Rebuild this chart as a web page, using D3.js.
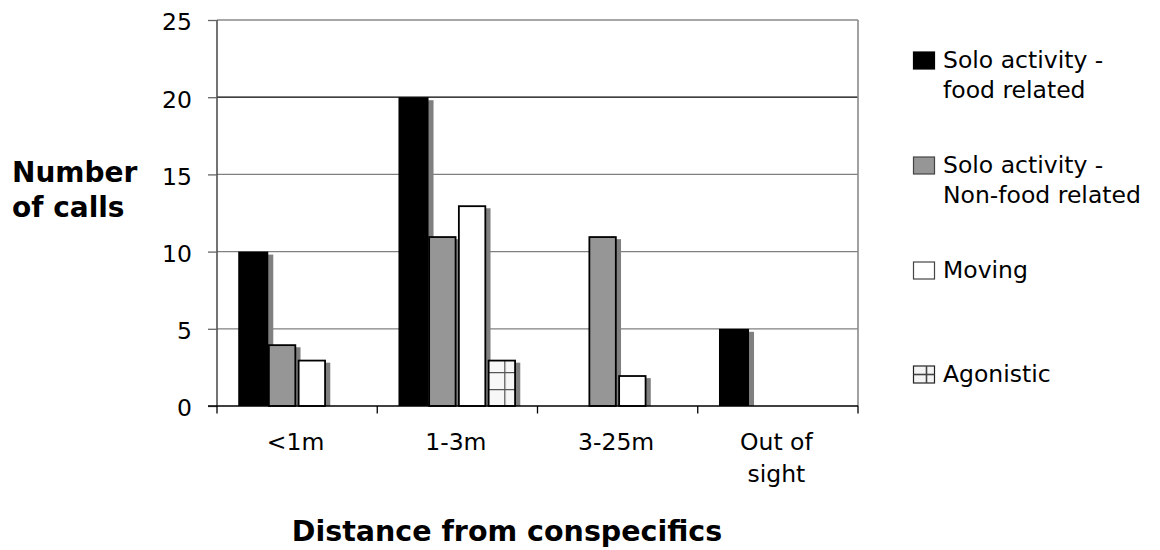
<!DOCTYPE html>
<html>
<head>
<meta charset="utf-8">
<script src="https://cdn.jsdelivr.net/npm/d3@7"></script>
<style>
  html, body { margin: 0; padding: 0; background: #fff; }
  svg { display: block; font-family: Verdana, "DejaVu Sans", sans-serif; }
</style>
</head>
<body>
<svg id="chart" width="1160" height="550"></svg>
<script>
// ---- data ----
const categories = ["<1m", "1-3m", "3-25m", "Out of sight"];
const categoryLines = [["<1m"], ["1-3m"], ["3-25m"], ["Out of", "sight"]];
const seriesKeys = ["soloFood", "soloNonFood", "moving", "agonistic"];
const seriesNames = ["Solo activity - food related", "Solo activity - Non-food related", "Moving", "Agonistic"];
const legendLines = [["Solo activity -", "food related"], ["Solo activity -", "Non-food related"], ["Moving"], ["Agonistic"]];
const soloFood    = [10, 20, 0, 5];
const soloNonFood = [4, 11, 11, 0];
const moving      = [3, 13, 2, 0];
const agonistic   = [0, 3, 0, 0];
const yTicks = [0, 5, 10, 15, 20, 25];

const seriesValues = [soloFood, soloNonFood, moving, agonistic];
const rows = categories.map((c, i) => {
  const r = { category: c };
  seriesKeys.forEach((k, j) => r[k] = seriesValues[j][i]);
  return r;
});

// ---- layout ----
const svg = d3.select("#chart");
const plot = { left: 217, right: 858, top: 20, bottom: 406 };

const x0 = d3.scaleBand().domain(categories).range([plot.left, plot.right]);
const groupW = 119;
const gOff = (x0.bandwidth() - groupW) / 2 + 0.6;
const x1 = d3.scaleBand().domain(seriesKeys).range([0, groupW]);
const y = d3.scaleLinear().domain([0, 25]).range([plot.bottom, plot.top]);

const fills = { soloFood: "#000", soloNonFood: "#969696", moving: "#fff", agonistic: "url(#grid)" };

// pattern for agonistic
const defs = svg.append("defs");
const agIdx = categories.indexOf("1-3m");
const pat = defs.append("pattern").attr("id", "grid")
  .attr("patternUnits", "userSpaceOnUse")
  .attr("width", 17).attr("height", 17)
  .attr("x", x0(categories[agIdx]) + gOff + x1("agonistic") + 9)
  .attr("y", y(0) - 17);
pat.append("rect").attr("width", 17).attr("height", 17).attr("fill", "#f7f7f7");
pat.append("line").attr("x1", 0).attr("y1", 0).attr("x2", 0).attr("y2", 17).attr("stroke", "#555").attr("stroke-width", 2.5);
pat.append("line").attr("x1", 0).attr("y1", 0).attr("x2", 17).attr("y2", 0).attr("stroke", "#555").attr("stroke-width", 2.5);

// gridlines
svg.append("g").selectAll("line")
  .data(yTicks.filter(t => t > 0 && t < 25))
  .join("line")
  .attr("x1", plot.left).attr("x2", plot.right)
  .attr("y1", d => y(d)).attr("y2", d => y(d))
  .attr("stroke", d => d === 20 ? "#000" : "#808080")
  .attr("stroke-width", 1.2);

// plot frame (top & right)
svg.append("line").attr("x1", plot.left).attr("x2", plot.right)
  .attr("y1", y(25)).attr("y2", y(25)).attr("stroke", "#8a8a8a").attr("stroke-width", 1.6);
svg.append("line").attr("x1", plot.right).attr("x2", plot.right)
  .attr("y1", y(25)).attr("y2", y(0)).attr("stroke", "#8a8a8a").attr("stroke-width", 1.6);

// bars
const slot = x1.bandwidth();
const groups = svg.append("g").selectAll("g")
  .data(rows).join("g")
  .attr("transform", d => `translate(${x0(d.category) + gOff},0)`);

seriesKeys.forEach(k => {
  const sel = groups.filter(d => d[k] > 0);
  // shadow
  sel.append("rect")
    .attr("x", x1(k) + 5.3)
    .attr("y", d => y(d[k]) + 3)
    .attr("width", k === "soloFood" ? slot : slot - 2.5)
    .attr("height", d => y(0) - y(d[k]) - 3)
    .attr("fill", "#808080");
  if (k === "soloFood") {
    sel.append("rect")
      .attr("x", x1(k))
      .attr("y", d => y(d[k]))
      .attr("width", slot + 0.3)
      .attr("height", d => y(0) - y(d[k]))
      .attr("fill", fills[k]);
  } else {
    sel.append("rect")
      .attr("x", x1(k) + 0.9)
      .attr("y", d => y(d[k]) + 0.9)
      .attr("width", slot - 3.3)
      .attr("height", d => y(0) - y(d[k]) - 0.9)
      .attr("fill", fills[k])
      .attr("stroke", "#000")
      .attr("stroke-width", 1.8);
  }
});

// y axis
const yAxis = svg.append("g")
  .attr("transform", `translate(${plot.left},0)`)
  .call(d3.axisLeft(y).tickValues(yTicks).tickSize(9).tickPadding(16));
yAxis.select(".domain").attr("stroke", "#444").attr("stroke-width", 1.5)
  .attr("d", `M0,${y(25)}V${y(0)}`);
yAxis.selectAll(".tick line").attr("stroke", "#666").attr("stroke-width", 1.3);
yAxis.selectAll(".tick text")
  .attr("font-size", "23.5px").attr("fill", "#000")
  .attr("font-family", 'Verdana, "DejaVu Sans", sans-serif')
  .attr("dy", "0.42em");

// x axis: boundary ticks + baseline
const xAxisG = svg.append("g");
xAxisG.append("line").attr("x1", plot.left - 9).attr("x2", plot.right)
  .attr("y1", y(0)).attr("y2", y(0)).attr("stroke", "#000").attr("stroke-width", 1.5);
const bounds = categories.map(c => x0(c)).concat([x0(categories[categories.length - 1]) + x0.bandwidth()]);
xAxisG.selectAll("line.bt").data(bounds).join("line").attr("class", "bt")
  .attr("x1", d => d).attr("x2", d => d)
  .attr("y1", y(0)).attr("y2", y(0) + 7.5)
  .attr("stroke", "#000").attr("stroke-width", 1.3);

// x labels
const xl = svg.append("g").selectAll("text")
  .data(categories).join("text")
  .attr("x", (d, i) => x0(d) + x0.bandwidth() / 2 - 1.5)
  .attr("y", y(0) + 44)
  .attr("text-anchor", "middle")
  .attr("font-size", "23.5px")
  .attr("fill", "#000");
xl.selectAll("tspan")
  .data((d, i) => categoryLines[i].map(t => ({ t, cx: x0(d) + x0.bandwidth() / 2 - 1.5 })))
  .join("tspan")
  .attr("x", d => d.cx)
  .attr("dy", (d, i) => i === 0 ? 0 : 32)
  .text(d => d.t);

// axis titles
const yTitle = svg.append("text")
  .attr("x", 12).attr("y", 182)
  .attr("font-size", "28px").attr("font-weight", "bold").attr("fill", "#000");
yTitle.selectAll("tspan").data(["Number", "of calls"]).join("tspan")
  .attr("x", 12).attr("dy", (d, i) => i === 0 ? 0 : 35).text(d => d);

svg.append("text")
  .attr("x", 507).attr("y", 541)
  .attr("text-anchor", "middle")
  .attr("font-size", "28.5px").attr("font-weight", "bold").attr("fill", "#000")
  .text("Distance from conspecifics");

// legend
const legendBaselines = [68, 173, 278, 382];
const legend = svg.append("g");
seriesKeys.forEach((k, i) => {
  const b = legendBaselines[i];
  const g = legend.append("g");
  const mx = 913.5, my = b - 16, mw = 21, mh = 17;
  if (k === "agonistic") {
    g.append("rect").attr("x", mx).attr("y", my).attr("width", mw).attr("height", mh)
      .attr("fill", "#f4f4f4").attr("stroke", "#222").attr("stroke-width", 1.2);
    g.append("line").attr("x1", mx + 13).attr("x2", mx + 13).attr("y1", my).attr("y2", my + mh)
      .attr("stroke", "#444").attr("stroke-width", 1.6);
    g.append("line").attr("x1", mx).attr("x2", mx + mw).attr("y1", my + mh / 2).attr("y2", my + mh / 2)
      .attr("stroke", "#444").attr("stroke-width", 1.6);
  } else {
    g.append("rect").attr("x", mx).attr("y", my).attr("width", mw).attr("height", mh)
      .attr("fill", k === "soloFood" ? "#000" : (k === "soloNonFood" ? "#969696" : "#fff"))
      .attr("stroke", k === "soloFood" ? "#000" : "#444").attr("stroke-width", 1.2);
  }
  const t = g.append("text").attr("x", 943).attr("y", b)
    .attr("font-size", "23.5px").attr("fill", "#000");
  t.selectAll("tspan").data(legendLines[i]).join("tspan")
    .attr("x", 943).attr("dy", (d, j) => j === 0 ? 0 : 29.5).text(d => d);
});
</script>
</body>
</html>
